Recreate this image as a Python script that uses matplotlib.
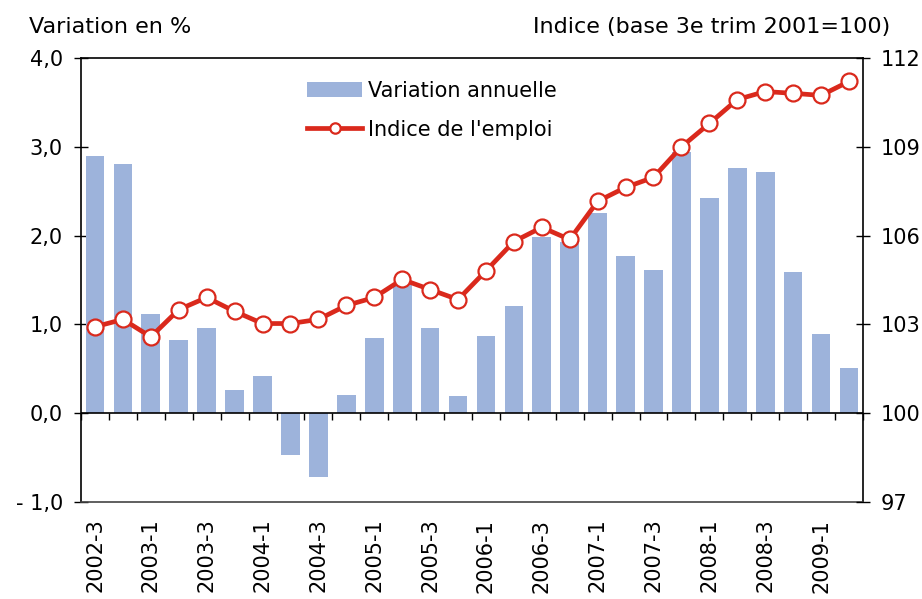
import matplotlib
matplotlib.use("Agg")
import matplotlib.pyplot as plt
import numpy as np

quarters = ["2002-3", "2002-4", "2003-1", "2003-2", "2003-3", "2003-4",
            "2004-1", "2004-2", "2004-3", "2004-4", "2005-1", "2005-2",
            "2005-3", "2005-4", "2006-1", "2006-2", "2006-3", "2006-4",
            "2007-1", "2007-2", "2007-3", "2007-4", "2008-1", "2008-2",
            "2008-3", "2008-4", "2009-1", "2009-2"]
variation = [2.90, 2.81, 1.12, 0.82, 0.96, 0.26, 0.42, -0.47, -0.72, 0.21,
             0.85, 1.44, 0.96, 0.19, 0.87, 1.21, 1.99, 1.93, 2.26, 1.77,
             1.61, 2.94, 2.42, 2.76, 2.72, 1.59, 0.89, 0.51]
indice = [102.92, 103.17, 102.58, 103.50, 103.91, 103.44, 103.03, 103.03,
          103.17, 103.64, 103.91, 104.52, 104.18, 103.84, 104.81, 105.80,
          106.28, 105.87, 107.16, 107.63, 107.97, 109.00, 109.79, 110.60,
          110.87, 110.81, 110.74, 111.21]
left_ticks = [-1.0, 0.0, 1.0, 2.0, 3.0, 4.0]
left_labels = ["- 1,0", "0,0", "1,0", "2,0", "3,0", "4,0"]
right_ticks = [97, 100, 103, 106, 109, 112]

bar_color = "#9DB3DB"
red = "#DA291C"
fs = 15

fig = plt.figure(figsize=(9.22, 5.99), dpi=100)
ax = fig.add_axes([0.0879, 0.162, 0.848, 0.741])
x = np.arange(len(quarters))

ax.bar(x, variation, width=0.67, color=bar_color, label="Variation annuelle", zorder=2)
ax.set_xlim(-0.5, len(quarters) - 0.5)
ax.set_ylim(left_ticks[0], left_ticks[-1])
ax.set_yticks(left_ticks)
ax.set_yticklabels(left_labels)
ax.tick_params(axis="y", direction="inout", length=10, width=1, labelsize=fs, pad=8)
ax.set_xticks(x[::2])
ax.set_xticklabels(quarters[::2], rotation=90, fontsize=fs)
ax.tick_params(axis="x", length=0, pad=12)
ax.axhline(0, color="black", lw=1.2, zorder=3)
for s in ["left", "right", "top"]:
    ax.spines[s].set_color("black")
    ax.spines[s].set_linewidth(1.2)
ax.spines["bottom"].set_color("#444444")
ax.spines["bottom"].set_linewidth(1.2)

# small ticks on the zero line between bars
sec = ax.secondary_xaxis((0 - left_ticks[0]) / (left_ticks[-1] - left_ticks[0]))
sec.set_xticks(np.arange(len(quarters) + 1) - 0.5)
sec.tick_params(axis="x", direction="out", length=5, width=1, labelbottom=False,
                labeltop=False, color="black")
sec.spines["bottom"].set_visible(False)

ax2 = ax.twinx()
ax2.set_ylim(right_ticks[0], right_ticks[-1])
ax2.set_yticks(right_ticks)
ax2.tick_params(axis="y", direction="inout", length=10, width=1, labelsize=fs, pad=8)
for s in ax2.spines.values():
    s.set_visible(False)
ax2.plot(x, indice, color=red, lw=3.4, marker="o", markersize=11.5,
         markerfacecolor="white", markeredgecolor=red, markeredgewidth=1.6,
         label="Indice de l'emploi", zorder=4)

ax.set_zorder(1)
ax.patch.set_visible(False)
ax2.set_zorder(2)

h1, l1 = ax.get_legend_handles_labels()
h2, l2 = ax2.get_legend_handles_labels()
fig.legend(h1 + h2, l1 + l2, loc="upper left", bbox_to_anchor=(0.333, 0.865),
           frameon=False, fontsize=fs, handlelength=2.65, handletextpad=0.3,
           labelspacing=0.9, borderaxespad=0, borderpad=0, markerscale=0.65)

fig.text(0.031, 0.945, "Variation en %", fontsize=16, ha="left", va="baseline")
fig.text(0.966, 0.945, "Indice (base 3e trim 2001=100)", fontsize=16, ha="right", va="baseline")

fig.savefig("out.png", dpi=100)
